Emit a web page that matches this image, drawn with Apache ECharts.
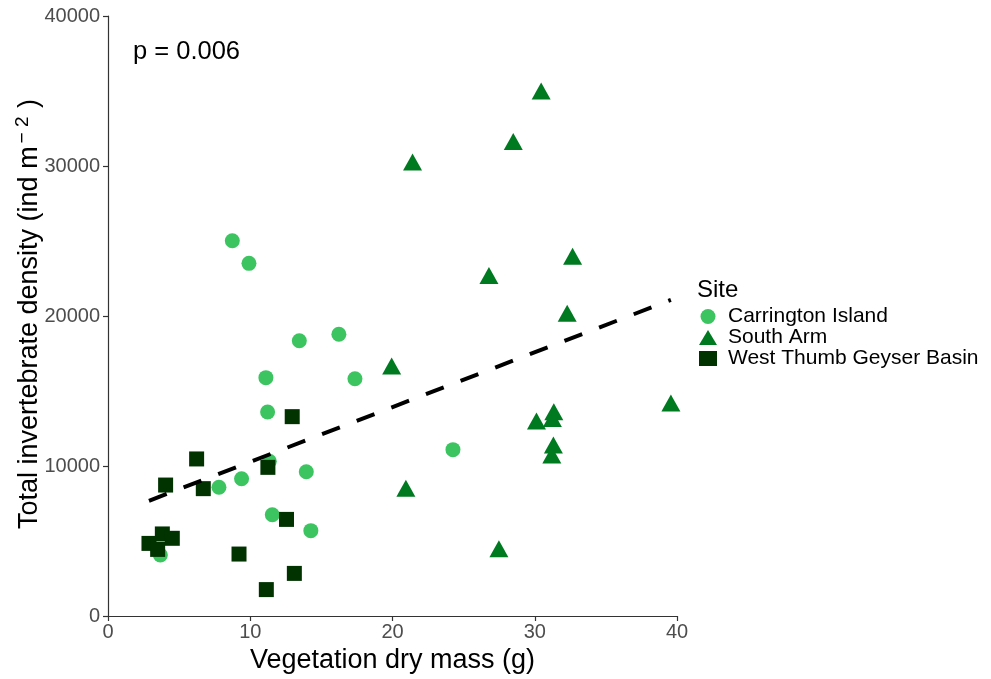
<!DOCTYPE html>
<html>
<head>
<meta charset="utf-8">
<script src="https://cdn.jsdelivr.net/npm/echarts@6/dist/echarts.min.js"></script>
<style>
  html, body { margin: 0; padding: 0; background: #fff; }
  #chart { width: 991px; height: 679px; }
</style>
</head>
<body>
<div id="chart"></div>
<script>
// Vegetation dry mass (g) vs total invertebrate density (ind m^-2), by site
const carringtonX = [8.74, 9.91, 13.45, 16.23, 11.10, 17.36, 11.22, 11.34, 13.94, 9.39, 7.80, 11.55, 14.26, 3.68, 24.25];
const carringtonY = [25020, 23510, 18350, 18780, 15890, 15820, 13600, 10310, 9620, 9150, 8580, 6750, 5690, 4070, 11090];

const southArmX = [30.45, 28.49, 21.41, 32.66, 26.78, 32.28, 19.94, 39.57, 31.34, 31.24, 30.12, 31.31, 31.20, 20.94, 27.48];
const southArmY = [35000, 31640, 30270, 23990, 22700, 20180, 16670, 14200, 13620, 13160, 13000, 11400, 10730, 8510, 4490];

const westThumbX = [12.95, 6.23, 11.24, 4.05, 6.70, 12.55, 2.88, 3.82, 4.52, 3.49, 9.21, 13.10, 11.13];
const westThumbY = [13290, 10470, 9910, 8730, 8490, 6440, 4840, 5470, 5180, 4440, 4130, 2840, 1760];

// Fitted linear trend, drawn across the range of the data
const trendX = [2.88, 39.57];
const trendY = [7680, 21070];

const siteNames = ['Carrington Island', 'South Arm', 'West Thumb Geyser Basin'];
const pLabel = 'p = 0.006';
const xTitle = 'Vegetation dry mass (g)';

const pairs = (xs, ys) => xs.map((x, i) => [x, ys[i]]);

const font = 'Liberation Sans, Arial, Helvetica, sans-serif';
const chart = echarts.init(document.getElementById('chart'), null, { renderer: 'canvas' });

const axisLine = { show: true, onZero: false, lineStyle: { color: '#333', width: 1.2 } };
const axisTick = { show: true, length: 5, lineStyle: { color: '#333', width: 1.2 } };
const tickLabel = (margin) => ({ fontSize: 20, color: '#4d4d4d', margin, fontFamily: font, formatter: v => String(v) });

chart.setOption({
  animation: false,
  backgroundColor: '#ffffff',
  textStyle: { fontFamily: font },
  grid: { left: 108, right: 314, top: 16, bottom: 63, containLabel: false, outerBoundsMode: 'none' },
  xAxis: {
    type: 'value', min: 0, max: 40, interval: 10,
    axisLine, axisTick, axisLabel: tickLabel(6), splitLine: { show: false },
    name: xTitle, nameLocation: 'middle', nameGap: 25,
    nameTextStyle: { fontSize: 27, color: '#000', fontFamily: font }
  },
  yAxis: {
    type: 'value', min: 0, max: 40000, interval: 10000,
    axisLine, axisTick, axisLabel: tickLabel(8), splitLine: { show: false }
  },
  legend: {
    orient: 'vertical', left: 694, top: 301,
    data: siteNames,
    itemWidth: 18, itemHeight: 15, itemGap: 0,
    textStyle: { fontSize: 21, lineHeight: 21, color: '#000', fontFamily: font, padding: [0, 0, 0, 6] },
    selectedMode: false
  },
  graphic: [
    { type: 'text', left: 697, top: 278, style: { text: 'Site', fill: '#000', font: '24px ' + font } },
    { type: 'text', left: 133, top: 39, style: { text: pLabel, fill: '#000', font: '25.5px ' + font } },
    {
      // y-axis title with superscript exponent
      type: 'text', x: 30, y: 314, rotation: Math.PI / 2,
      style: {
        text: '{a|Total invertebrate density (ind m}{s|\u2212 2}{a| )}',
        align: 'center', verticalAlign: 'middle',
        rich: {
          a: { fontSize: 27, fill: '#000', fontFamily: font },
          s: { fontSize: 19, fill: '#000', fontFamily: font, verticalAlign: 'bottom', padding: [0, 1, 14, 3] }
        }
      }
    }
  ],
  series: [
    {
      name: 'trend', type: 'line', data: pairs(trendX, trendY),
      symbol: 'none', lineStyle: { color: '#000', width: 4, type: [19, 18.1], cap: 'butt' },
      silent: true, z: 5, legendHoverLink: false
    },
    {
      name: siteNames[0], type: 'scatter', data: pairs(carringtonX, carringtonY),
      symbol: 'circle', symbolSize: 15, itemStyle: { color: '#3cc461', opacity: 1 }, z: 3
    },
    {
      name: siteNames[1], type: 'scatter', data: pairs(southArmX, southArmY),
      symbol: 'triangle', symbolSize: [19, 17], itemStyle: { color: '#007a21', opacity: 1 }, z: 3
    },
    {
      name: siteNames[2], type: 'scatter', data: pairs(westThumbX, westThumbY),
      symbol: 'rect', symbolSize: 15, itemStyle: { color: '#003300', opacity: 1 }, z: 4
    }
  ]
});
</script>
</body>
</html>
